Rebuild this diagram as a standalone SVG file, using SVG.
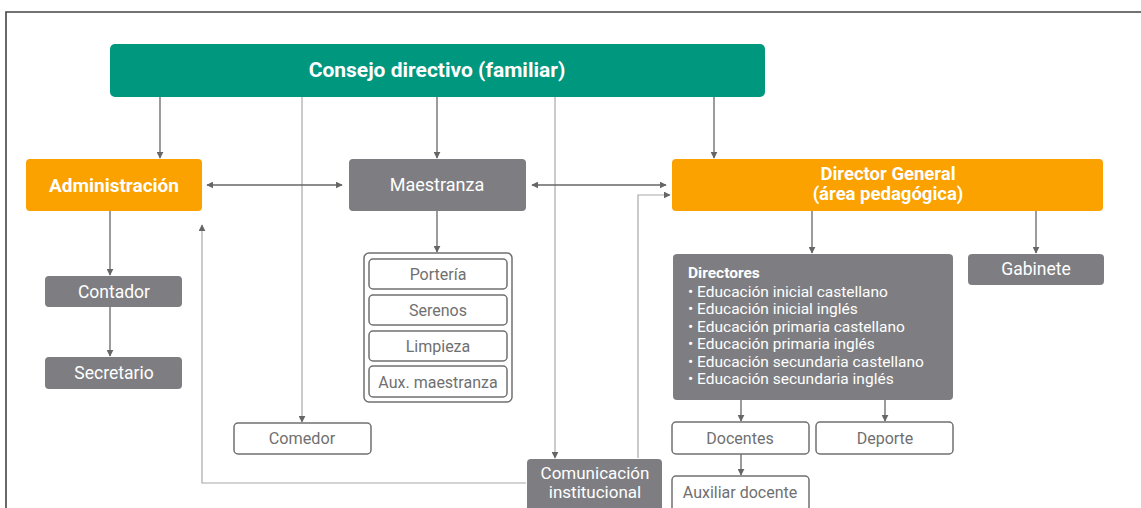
<svg xmlns="http://www.w3.org/2000/svg" width="1141" height="508" viewBox="0 0 1141 508">
<defs>
<marker id="ah" viewBox="0 0 10 10" refX="9" refY="5" markerWidth="7" markerHeight="7" markerUnits="userSpaceOnUse" orient="auto-start-reverse">
<path d="M0,0 L10,5 L0,10 z" fill="#666"/>
</marker>
<style>
.t{font-family:Roboto,"Liberation Sans",sans-serif;}
.wb{fill:#ffffff;font-weight:bold;}
.wn{fill:#ffffff;}
.gt{fill:#707070;}
.green{fill:#00977f;}
.orange{fill:#fba100;}
.grey{fill:#7e7e82;}
.white{fill:#ffffff;stroke:#707070;stroke-width:1.5;}
.ln{stroke:#666;stroke-width:1.3;fill:none;}
.lt{stroke:#a8a8a8;stroke-width:1.2;fill:none;}
</style>
</defs>
<rect width="1141" height="508" fill="#ffffff"/>
<path d="M6,508 L6,12 L1141,12" stroke="#444" stroke-width="1.6" fill="none"/>

<g id="connectors">
<line class="ln" x1="160" y1="97" x2="160" y2="158" marker-end="url(#ah)"/>
<line class="lt" x1="302" y1="97" x2="302" y2="422" marker-end="url(#ah)"/>
<line class="ln" x1="437" y1="97" x2="437" y2="158" marker-end="url(#ah)"/>
<line class="lt" x1="555" y1="97" x2="555" y2="458" marker-end="url(#ah)"/>
<line class="ln" x1="714" y1="97" x2="714" y2="158" marker-end="url(#ah)"/>
<line class="ln" x1="207" y1="185" x2="342" y2="185" marker-start="url(#ah)" marker-end="url(#ah)"/>
<line class="ln" x1="532" y1="185" x2="666" y2="185" marker-start="url(#ah)" marker-end="url(#ah)"/>
<polyline class="lt" points="638,458 638,195 670,195" marker-end="url(#ah)"/>
<polyline class="lt" points="526,483 202,483 202,225" marker-end="url(#ah)"/>
<line class="ln" x1="110" y1="211" x2="110" y2="275" marker-end="url(#ah)"/>
<line class="ln" x1="110" y1="307" x2="110" y2="356" marker-end="url(#ah)"/>
<line class="ln" x1="437" y1="211" x2="437" y2="252" marker-end="url(#ah)"/>
<line class="ln" x1="812" y1="211" x2="812" y2="253" marker-end="url(#ah)"/>
<line class="ln" x1="1036" y1="211" x2="1036" y2="253" marker-end="url(#ah)"/>
<line class="ln" x1="741" y1="400" x2="741" y2="421" marker-end="url(#ah)"/>
<line class="ln" x1="885" y1="400" x2="885" y2="421" marker-end="url(#ah)"/>
<line class="ln" x1="741" y1="454" x2="741" y2="475" marker-end="url(#ah)"/>
</g>

<g id="consejo">
<rect class="green" x="110" y="44" width="655" height="53" rx="5"/>
<text class="t wb" x="437" y="77" font-size="21" text-anchor="middle">Consejo directivo (familiar)</text>
</g>
<g id="administracion">
<rect class="orange" x="26" y="159" width="176" height="52" rx="4"/>
<text class="t wb" x="114" y="192" font-size="19" text-anchor="middle">Administración</text>
</g>
<g id="maestranza">
<rect class="grey" x="349" y="159" width="177" height="52" rx="4"/>
<text class="t wn" x="437" y="191" font-size="18" text-anchor="middle">Maestranza</text>
</g>
<g id="director">
<rect class="orange" x="672" y="159" width="431" height="52" rx="4"/>
<text class="t wb" x="888" y="180" font-size="18.5" text-anchor="middle">Director General</text>
<text class="t wb" x="888" y="200" font-size="18.5" text-anchor="middle">(área pedagógica)</text>
</g>
<g id="contador">
<rect class="grey" x="45" y="276" width="137" height="31" rx="4"/>
<text class="t wn" x="114" y="298" font-size="17.5" text-anchor="middle">Contador</text>
</g>
<g id="secretario">
<rect class="grey" x="45" y="357" width="137" height="32" rx="4"/>
<text class="t wn" x="114" y="379" font-size="17.5" text-anchor="middle">Secretario</text>
</g>
<g id="comedor">
<rect class="white" x="234" y="423" width="137" height="31" rx="4"/>
<text class="t gt" x="302" y="444" font-size="16.2" text-anchor="middle">Comedor</text>
</g>
<g id="maestranza-areas">
<rect class="white" x="364" y="253" width="148" height="149" rx="5"/>
<rect class="white" x="369" y="259" width="138" height="30" rx="4"/>
<text class="t gt" x="438" y="280" font-size="16" text-anchor="middle">Portería</text>
<rect class="white" x="369" y="295" width="138" height="30" rx="4"/>
<text class="t gt" x="438" y="316" font-size="16" text-anchor="middle">Serenos</text>
<rect class="white" x="369" y="331" width="138" height="30" rx="4"/>
<text class="t gt" x="438" y="352" font-size="16" text-anchor="middle">Limpieza</text>
<rect class="white" x="369" y="366" width="138" height="31" rx="4"/>
<text class="t gt" x="438" y="388" font-size="16" text-anchor="middle">Aux. maestranza</text>
</g>
<g id="comunicacion">
<rect class="grey" x="527" y="459" width="135" height="60" rx="4"/>
<text class="t wn" x="595" y="479" font-size="17" text-anchor="middle">Comunicación</text>
<text class="t wn" x="595" y="498" font-size="17" text-anchor="middle">institucional</text>
</g>
<g id="directores">
<rect class="grey" x="673" y="254" width="280" height="146" rx="4"/>
<text class="t wb" x="688" y="278" font-size="15.5">Directores</text>
<text class="t wn" x="688" y="297" font-size="15.5">• Educación inicial castellano</text>
<text class="t wn" x="688" y="314" font-size="15.5">• Educación inicial inglés</text>
<text class="t wn" x="688" y="332" font-size="15.5">• Educación primaria castellano</text>
<text class="t wn" x="688" y="349" font-size="15.5">• Educación primaria inglés</text>
<text class="t wn" x="688" y="367" font-size="15.5">• Educación secundaria castellano</text>
<text class="t wn" x="688" y="384" font-size="15.5">• Educación secundaria inglés</text>
</g>
<g id="gabinete">
<rect class="grey" x="968" y="254" width="136" height="31" rx="4"/>
<text class="t wn" x="1036" y="275" font-size="17.5" text-anchor="middle">Gabinete</text>
</g>
<g id="docentes">
<rect class="white" x="672" y="422" width="137" height="32" rx="4"/>
<text class="t gt" x="740" y="444" font-size="16" text-anchor="middle">Docentes</text>
</g>
<g id="deporte">
<rect class="white" x="816" y="422" width="137" height="32" rx="4"/>
<text class="t gt" x="885" y="444" font-size="16" text-anchor="middle">Deporte</text>
</g>
<g id="auxiliar">
<rect class="white" x="672" y="476" width="137" height="40" rx="4"/>
<text class="t gt" x="740" y="498" font-size="16" text-anchor="middle">Auxiliar docente</text>
</g>
</svg>
